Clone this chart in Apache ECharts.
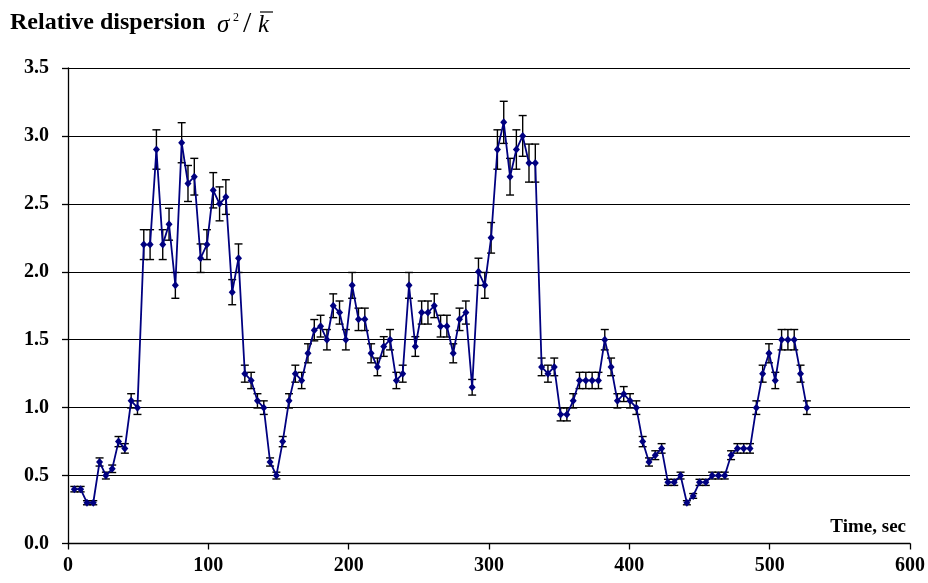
<!DOCTYPE html>
<html>
<head>
<meta charset="utf-8">
<script src="https://cdn.jsdelivr.net/npm/echarts@6/dist/echarts.min.js"></script>
<style>
html,body{margin:0;padding:0;background:#fff;}
#chart{width:928px;height:583px;}
</style>
</head>
<body>
<div id="chart"></div>
<script>
// Sample times (sec)
const times = [
  4.5, 9, 13.5, 18, 22.5, 27, 31.5, 36, 40.5, 45,
  49.5, 54, 58.5, 63, 67.5, 72, 76.5, 81, 85.5, 90,
  94.5, 99, 103.5, 108, 112.5, 117, 121.5, 126, 130.5, 135,
  139.5, 144, 148.5, 153, 157.5, 162, 166.5, 171, 175.5, 180,
  184.5, 189, 193.5, 198, 202.5, 207, 211.5, 216, 220.5, 225,
  229.5, 234, 238.5, 243, 247.5, 252, 256.5, 261, 265.5, 270,
  274.5, 279, 283.5, 288, 292.5, 297, 301.5, 306, 310.5, 315,
  319.5, 324, 328.5, 333, 337.5, 342, 346.5, 351, 355.5, 360,
  364.5, 369, 373.5, 378, 382.5, 387, 391.5, 396, 400.5, 405,
  409.5, 414, 418.5, 423, 427.5, 432, 436.5, 441, 445.5, 450,
  454.5, 459, 463.5, 468, 472.5, 477, 481.5, 486, 490.5, 495,
  499.5, 504, 508.5, 513, 517.5, 522, 526.5
];
// Relative dispersion values
const dispersion = [
  0.40, 0.40, 0.30, 0.30, 0.60, 0.50, 0.55, 0.75, 0.70, 1.05,
  1.00, 2.20, 2.20, 2.90, 2.20, 2.35, 1.90, 2.95, 2.65, 2.70,
  2.10, 2.20, 2.60, 2.50, 2.55, 1.85, 2.10, 1.25, 1.20, 1.05,
  1.00, 0.60, 0.50, 0.75, 1.05, 1.25, 1.20, 1.40, 1.57, 1.60,
  1.50, 1.75, 1.70, 1.50, 1.90, 1.65, 1.65, 1.40, 1.30, 1.45,
  1.50, 1.20, 1.25, 1.90, 1.45, 1.70, 1.70, 1.75, 1.60, 1.60,
  1.40, 1.65, 1.70, 1.15, 2.00, 1.90, 2.25, 2.90, 3.10, 2.70,
  2.90, 3.00, 2.80, 2.80, 1.30, 1.25, 1.30, 0.95, 0.95, 1.05,
  1.20, 1.20, 1.20, 1.20, 1.50, 1.30, 1.05, 1.10, 1.05, 1.00,
  0.75, 0.60, 0.65, 0.70, 0.45, 0.45, 0.50, 0.30, 0.35, 0.45,
  0.45, 0.50, 0.50, 0.50, 0.65, 0.70, 0.70, 0.70, 1.00, 1.25,
  1.40, 1.20, 1.50, 1.50, 1.50, 1.25, 1.00
];
// Error bars: percentage of value (Excel-style percentage error bars)
const errorPercent = 5;

const xTicks = [0, 100, 200, 300, 400, 500, 600];
const yTicks = [0, 0.5, 1.0, 1.5, 2.0, 2.5, 3.0, 3.5];

const lineData = times.map((t, i) => [t, dispersion[i]]);
const errData = times.map((t, i) => [t, dispersion[i], dispersion[i] * errorPercent / 100]);

const FONT = '"Liberation Serif", "Times New Roman", serif';

const chart = echarts.init(document.getElementById('chart'), null, {renderer: 'canvas'});
chart.setOption({
  animation: false,
  backgroundColor: '#fff',
  grid: {left: 68, right: 17, top: 68, bottom: 39.5, containLabel: false},
  xAxis: {
    type: 'value',
    min: xTicks[0], max: xTicks[xTicks.length - 1], interval: 100,
    axisLine: {show: true, lineStyle: {color: '#000', width: 1.3}},
    axisTick: {show: true, inside: false, length: 6, lineStyle: {color: '#000', width: 1.3}},
    splitLine: {show: false},
    axisLabel: {color: '#000', fontFamily: FONT, fontWeight: 'bold', fontSize: 20, margin: 12}
  },
  yAxis: {
    type: 'value',
    min: yTicks[0], max: yTicks[yTicks.length - 1], interval: 0.5,
    axisLine: {show: true, lineStyle: {color: '#000', width: 1.3}},
    axisTick: {show: true, inside: false, length: 6, lineStyle: {color: '#000', width: 1.3}},
    splitLine: {show: true, lineStyle: {color: '#000', width: 1.2}},
    axisLabel: {color: '#000', fontFamily: FONT, fontWeight: 'bold', fontSize: 20, margin: 19,
      formatter: v => v.toFixed(1)}
  },
  graphic: [
    {type: 'text', x: 10, y: 23, style: {text: 'Relative dispersion', font: 'bold 24px ' + FONT, fill: '#000', verticalAlign: 'middle'}},
    {type: 'text', x: 217, y: 25, style: {text: 'σ', font: 'italic 25px ' + FONT, fill: '#000', verticalAlign: 'middle'}},
    {type: 'text', x: 233, y: 18, style: {text: '2', font: '12px ' + FONT, fill: '#000', verticalAlign: 'middle'}},
    {type: 'text', x: 243, y: 24, style: {text: '/', font: '30px ' + FONT, fill: '#000', verticalAlign: 'middle'}},
    {type: 'text', x: 258, y: 25, style: {text: 'k', font: 'italic 25px ' + FONT, fill: '#000', verticalAlign: 'middle'}},
    {type: 'line', shape: {x1: 260, y1: 12, x2: 273, y2: 12}, style: {stroke: '#000', lineWidth: 1.2}},
    {type: 'text', x: 906, y: 527, style: {text: 'Time, sec', font: 'bold 19px ' + FONT, fill: '#000', align: 'right', verticalAlign: 'middle'}}
  ],
  series: [
    {
      type: 'custom',
      z: 2,
      data: errData,
      encode: {x: 0, y: [1]},
      renderItem: function (params, api) {
        const x = api.value(0), y = api.value(1), e = api.value(2);
        const top = api.coord([x, y + e]);
        const bot = api.coord([x, y - e]);
        const cap = 4;
        const st = {stroke: '#000', lineWidth: 1.4};
        return {
          type: 'group',
          children: [
            {type: 'line', shape: {x1: top[0], y1: top[1], x2: bot[0], y2: bot[1]}, style: st},
            {type: 'line', shape: {x1: top[0] - cap, y1: top[1], x2: top[0] + cap, y2: top[1]}, style: st},
            {type: 'line', shape: {x1: bot[0] - cap, y1: bot[1], x2: bot[0] + cap, y2: bot[1]}, style: st}
          ]
        };
      }
    },
    {
      type: 'line',
      z: 3,
      data: lineData,
      symbol: 'diamond',
      symbolSize: [7, 8],
      lineStyle: {color: '#000080', width: 1.8},
      itemStyle: {color: '#000080'},
      showSymbol: true
    }
  ]
});
</script>
</body>
</html>
